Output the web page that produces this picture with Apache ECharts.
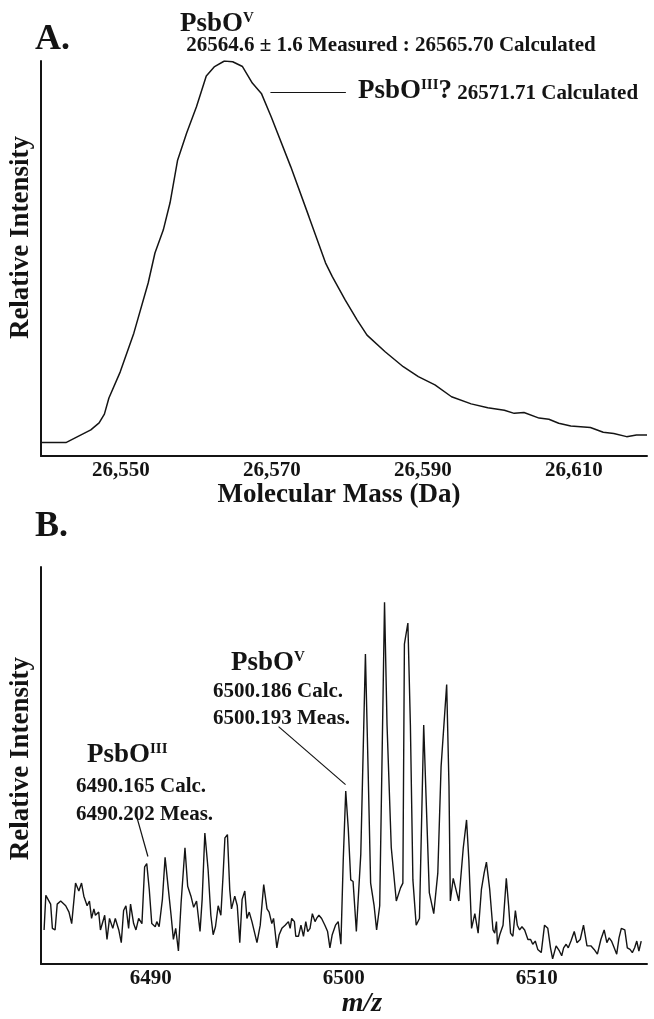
<!DOCTYPE html>
<html>
<head>
<meta charset="utf-8">
<script src="https://cdn.jsdelivr.net/npm/echarts@6/dist/echarts.min.js"></script>
<style>
html,body{margin:0;padding:0;background:#fff;}
#chart{width:654px;height:1019px;}
</style>
</head>
<body>
<div id="chart"></div>
<script>
// ---- Panel A: deconvoluted molecular mass spectrum ----
const massDa = [26539.4, 26542.7, 26546.0, 26547.1, 26547.8, 26548.4, 26549.9, 26551.7, 26553.6, 26554.5,
  26555.6, 26556.5, 26557.5, 26558.7, 26560.0, 26561.3, 26562.4, 26563.7, 26564.8, 26566.1,
  26567.4, 26568.6, 26569.9, 26572.5, 26574.9, 26577.1, 26578.0, 26579.7, 26581.3, 26582.6,
  26585.0, 26587.4, 26589.4, 26591.6, 26593.8, 26596.4, 26598.6, 26600.8, 26602.1, 26603.4,
  26605.4, 26606.7, 26608.0, 26609.6, 26612.2, 26613.9, 26615.3, 26617.0, 26618.3, 26619.7];
const massIntensity = [3.4, 3.4, 6.6, 8.4, 10.6, 14.7, 21.3, 31.1, 43.8, 51.4,
  57.2, 64.1, 74.9, 81.8, 88.4, 96.2, 98.6, 100, 99.8, 98.6,
  94.4, 91.8, 85.9, 73.2, 60.6, 48.9, 45.4, 39.5, 34.4, 30.6,
  26.4, 22.6, 20.1, 18.0, 15.0, 13.2, 12.2, 11.6, 10.8, 11.0,
  9.6, 9.3, 8.3, 7.6, 7.2, 6.0, 5.7, 4.9, 5.3, 5.3];
const massTicks = [26550, 26570, 26590, 26610];

// ---- Panel B: m/z spectrum ----
const mzValues = [
  6484.47, 6484.56, 6484.81, 6484.90, 6485.04, 6485.15, 6485.33, 6485.59, 6485.76, 6485.90,
  6486.10, 6486.27, 6486.41, 6486.53, 6486.70, 6486.82, 6486.93, 6487.05, 6487.13, 6487.30,
  6487.39, 6487.61, 6487.73, 6487.86, 6488.03, 6488.16, 6488.34, 6488.47, 6488.59, 6488.71,
  6488.85, 6488.95, 6489.11, 6489.23, 6489.37, 6489.54, 6489.68, 6489.79, 6489.92, 6490.05,
  6490.23, 6490.31, 6490.43, 6490.60, 6490.74, 6490.91, 6491.05, 6491.17, 6491.29, 6491.43,
  6491.57, 6491.77, 6491.91, 6492.08, 6492.22, 6492.37, 6492.55, 6492.66, 6492.80, 6492.97,
  6493.11, 6493.23, 6493.35, 6493.49, 6493.63, 6493.75, 6493.84, 6493.97, 6494.09, 6494.18,
  6494.35, 6494.48, 6494.61,
  6494.73, 6494.87, 6494.98, 6495.10, 6495.24, 6495.50, 6495.67, 6495.85, 6496.02, 6496.13,
  6496.27, 6496.36, 6496.44, 6496.53, 6496.65, 6496.79, 6496.96, 6497.13, 6497.22, 6497.30,
  6497.44, 6497.51, 6497.65, 6497.78, 6497.91, 6498.03, 6498.13, 6498.25, 6498.37, 6498.51,
  6498.59, 6498.71, 6498.85, 6499.02, 6499.16, 6499.28, 6499.40, 6499.57, 6499.71, 6499.85,
  6499.97, 6500.10, 6500.23, 6500.36, 6500.48, 6500.65, 6500.88, 6501.12, 6501.26, 6501.39,
  6501.57, 6501.70, 6501.86, 6502.11, 6502.24, 6502.46, 6502.72, 6502.94, 6503.06, 6503.14,
  6503.32, 6503.45, 6503.58, 6503.75, 6503.92, 6504.14, 6504.26, 6504.43, 6504.66, 6504.87,
  6505.04, 6505.33,
  6505.45, 6505.52, 6505.67, 6505.85, 6505.96, 6506.19, 6506.36, 6506.48, 6506.62, 6506.79,
  6506.88, 6506.96, 6507.13, 6507.27, 6507.39, 6507.56, 6507.73, 6507.82, 6507.91, 6507.96,
  6508.08, 6508.25, 6508.42, 6508.54, 6508.64, 6508.76, 6508.89, 6508.99, 6509.11, 6509.23,
  6509.37, 6509.54, 6509.68, 6509.79, 6509.92, 6510.05, 6510.23, 6510.40, 6510.57, 6510.71,
  6510.82, 6511.00, 6511.08, 6511.17, 6511.29, 6511.39, 6511.52, 6511.63, 6511.77, 6511.94,
  6512.08, 6512.25, 6512.42, 6512.60, 6512.80, 6512.97, 6513.14, 6513.32, 6513.49, 6513.63,
  6513.75, 6513.87, 6514.01, 6514.14, 6514.26, 6514.38, 6514.56, 6514.69, 6514.83, 6514.95,
  6515.07, 6515.18, 6515.29, 6515.41];
const mzIntensity = [
  8.6, 17.3, 15.1, 9.0, 8.6, 15.1, 15.9, 14.7, 13.1, 10.2,
  20.4, 18.4, 20.4, 17.1, 14.7, 15.9, 11.5, 13.9, 12.3, 13.1,
  8.6, 12.3, 6.2, 11.5, 9.0, 11.5, 8.6, 5.4, 13.5, 14.7,
  9.0, 15.1, 10.2, 8.6, 11.5, 10.2, 24.5, 25.3, 18.8, 10.2,
  9.4, 10.7, 9.4, 16.3, 26.9, 18.8, 12.3, 6.2, 9.0, 3.3,
  15.5, 29.3, 19.6, 17.1, 14.3, 15.9, 8.2, 16.3, 33.0, 23.7,
  12.3, 7.4, 9.4, 14.7, 12.3, 22.9, 31.8, 32.6, 18.8, 13.9,
  17.1, 14.7, 5.4,
  16.3, 18.4, 11.5, 13.1, 10.7, 5.4, 9.8, 20.0, 13.9, 13.1,
  10.2, 11.5, 8.2, 4.1, 7.4, 9.0, 9.8, 10.7, 9.0, 11.5,
  10.7, 7.0, 7.0, 9.8, 7.0, 10.7, 8.2, 9.0, 12.7, 10.7,
  11.5, 12.3, 11.5, 9.8, 8.2, 4.1, 7.4, 9.8, 10.7, 5.0,
  26.1, 43.6, 34.2, 21.2, 20.8, 8.2, 27.7, 78.1, 48.9, 20.4,
  14.7, 8.6, 14.7, 91.1, 60.2, 29.3, 15.9, 19.2, 20.4, 80.6,
  85.9, 60.2, 21.2, 9.8, 11.5, 60.2, 42.4, 18.0, 12.7, 22.9,
  49.7, 70.4,
  44.8, 15.9, 21.6, 18.0, 15.9, 29.3, 36.3, 26.1, 9.0, 12.7,
  13.1, 7.8, 18.8, 22.9, 25.7, 18.8, 8.6, 7.8, 10.7, 5.0,
  7.4, 9.8, 21.6, 14.7, 7.8, 7.0, 13.5, 9.8, 8.6, 9.4,
  8.6, 6.2, 6.2, 5.0, 5.8, 3.7, 2.9, 9.8, 9.0, 4.1,
  1.3, 4.6, 5.0, 3.3, 2.1, 4.1, 5.0, 4.1, 5.8, 8.2,
  5.4, 6.2, 9.8, 4.6, 4.6, 3.7, 2.5, 6.2, 8.6, 5.4,
  6.6, 5.8, 4.1, 2.5, 6.6, 9.0, 8.6, 4.1, 3.7, 2.9,
  4.1, 5.8, 3.3, 5.8];
const mzTicks = [6490, 6500, 6510];

// leader lines for the annotations (data coordinates)
const leaderA = [[26569.8, 92.2], [26579.8, 92.2]];
const leaderB3 = [[6489.26, 37.3], [6489.85, 27.1]];
const leaderB5 = [[6496.62, 59.8], [6500.09, 45.2]];

const FONT = 'Liberation Serif';
const INK = '#141414';

function commaFmt(v) {
  return String(Math.round(v)).replace(/\B(?=(\d{3})+(?!\d))/g, ',');
}
function leader(pts) {
  return {
    silent: true, symbol: ['none', 'none'],
    label: { show: false },
    lineStyle: { color: INK, width: 1.2, type: 'solid' },
    emphasis: { disabled: true },
    data: [[{ coord: pts[0] }, { coord: pts[1] }]]
  };
}
const axisLine = { show: true, onZero: false, lineStyle: { color: INK, width: 2 } };
const labelStyle = { fontFamily: FONT, fontWeight: 'bold', fontSize: 21, color: INK };
const nameStyleBase = { fontFamily: FONT, fontWeight: 'bold', fontSize: 27, color: INK };

const richBase = {
  b: { fontFamily: FONT, fontWeight: 'bold', fontSize: 27, fill: INK, color: INK, verticalAlign: 'bottom' },
  s: { fontFamily: FONT, fontWeight: 'bold', fontSize: 15, fill: INK, color: INK, verticalAlign: 'top' },
  n: { fontFamily: FONT, fontWeight: 'bold', fontSize: 21, fill: INK, color: INK, verticalAlign: 'bottom' }
};
function txt(x, y, text, size, align) {
  return { type: 'text', x: x, y: y, silent: true,
    style: { text: text, fill: INK, font: 'bold ' + size + 'px "' + FONT + '"',
      align: align || 'left', verticalAlign: 'middle' } };
}
function rtxt(x, y, text) {
  return { type: 'text', x: x, y: y, silent: true,
    style: { text: text, rich: richBase, fill: INK, font: 'bold 21px "' + FONT + '"',
      align: 'left', verticalAlign: 'middle' } };
}

const option = {
  animation: false,
  backgroundColor: '#ffffff',
  grid: [
    { left: 37, right: 7, top: 61, bottom: 563 },
    { left: 38, right: 7, top: 567, bottom: 42 }
  ],
  xAxis: [
    { type: 'value', gridIndex: 0, min: 26539.4, max: 26619.7,
      axisLine: axisLine, axisTick: { show: false }, splitLine: { show: false },
      axisLabel: Object.assign({ customValues: massTicks, formatter: commaFmt, margin: 4 }, labelStyle),
      name: 'Molecular Mass (Da)', nameLocation: 'middle', nameGap: 22,
      nameTextStyle: Object.assign({ padding: [0, 10, 0, 0] }, nameStyleBase) },
    { type: 'value', gridIndex: 1, min: 6484.31, max: 6515.71,
      axisLine: axisLine, axisTick: { show: false }, splitLine: { show: false },
      axisLabel: Object.assign({ customValues: mzTicks, formatter: v => String(Math.round(v)), margin: 4 }, labelStyle),
      name: 'm/z', nameLocation: 'middle', nameGap: 19,
      nameTextStyle: Object.assign({ padding: [0, 0, 0, 36] }, nameStyleBase, { fontStyle: 'italic', fontSize: 28 }) }
  ],
  yAxis: [
    { type: 'value', gridIndex: 0, min: 0, max: 100,
      axisLine: axisLine, axisTick: { show: false }, splitLine: { show: false }, axisLabel: { show: false },
      name: 'Relative Intensity', nameLocation: 'middle', nameGap: 6, nameRotate: 90,
      nameTextStyle: Object.assign({ padding: [0, 0, 0, 42] }, nameStyleBase) },
    { type: 'value', gridIndex: 1, min: 0, max: 100,
      axisLine: axisLine, axisTick: { show: false }, splitLine: { show: false }, axisLabel: { show: false },
      name: 'Relative Intensity', nameLocation: 'middle', nameGap: 6, nameRotate: 90,
      nameTextStyle: Object.assign({ padding: [0, 0, 0, 14] }, nameStyleBase) }
  ],
  series: [
    { type: 'line', xAxisIndex: 0, yAxisIndex: 0,
      data: massDa.map((x, i) => [x, massIntensity[i]]),
      showSymbol: false, symbol: 'none', silent: true,
      lineStyle: { color: INK, width: 1.5 },
      markLine: leader(leaderA) },
    { type: 'line', xAxisIndex: 1, yAxisIndex: 1,
      data: mzValues.map((x, i) => [x, mzIntensity[i]]),
      showSymbol: false, symbol: 'none', silent: true,
      lineStyle: { color: INK, width: 1.4 },
      markLine: { silent: true, symbol: ['none', 'none'], label: { show: false },
        lineStyle: { color: INK, width: 1.2, type: 'solid' }, emphasis: { disabled: true },
        data: [
          [{ coord: leaderB3[0] }, { coord: leaderB3[1] }],
          [{ coord: leaderB5[0] }, { coord: leaderB5[1] }]
        ] } }
  ],
  graphic: [
    txt(35, 40, 'A.', 36),
    rtxt(180, 24, '{b|PsbO}{s|V}'),
    txt(391, 46, '26564.6 \u00b1 1.6 Measured : 26565.70 Calculated', 21, 'center'),
    rtxt(358, 91, '{b|PsbO}{s|III}{b|?} {n|26571.71 Calculated}'),
    txt(35, 527, 'B.', 36),
    rtxt(231, 663, '{b|PsbO}{s|V}'),
    txt(213, 692, '6500.186 Calc.', 21),
    txt(213, 719, '6500.193 Meas.', 21),
    rtxt(87, 755, '{b|PsbO}{s|III}'),
    txt(76, 787, '6490.165 Calc.', 21),
    txt(76, 815, '6490.202 Meas.', 21)
  ]
};

const chart = echarts.init(document.getElementById('chart'), null, { renderer: 'canvas' });
chart.setOption(option);
</script>
</body>
</html>
